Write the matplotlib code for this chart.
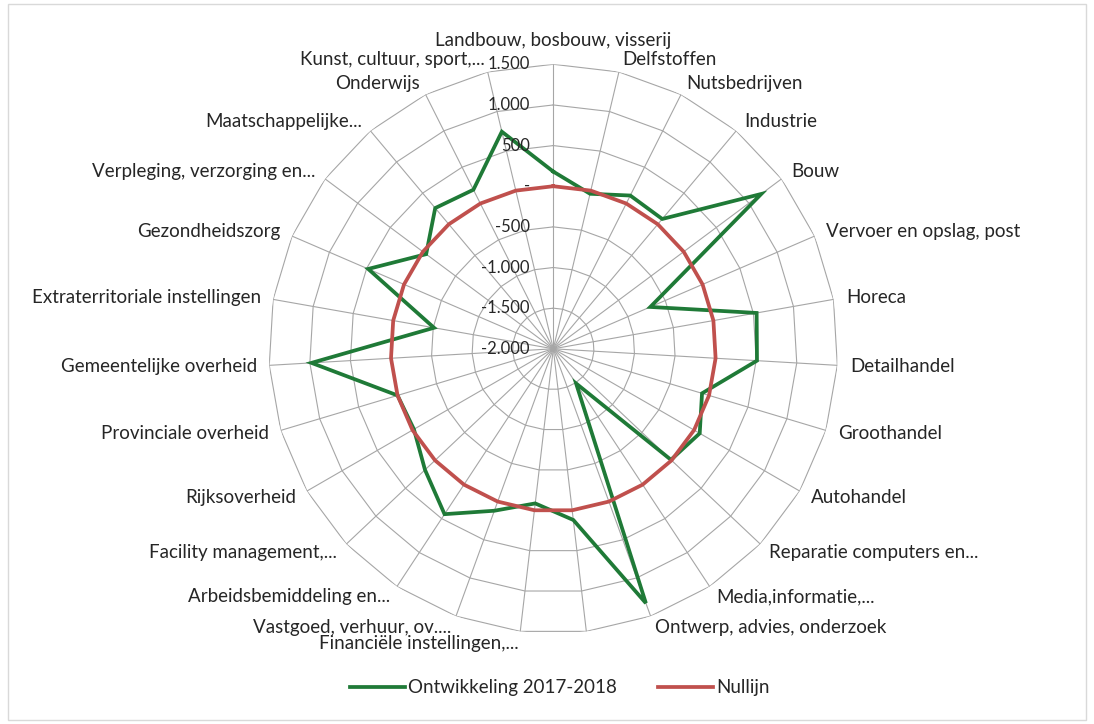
import numpy as np
import matplotlib
matplotlib.use('Agg')
import matplotlib.pyplot as plt
from matplotlib.patches import Rectangle


# sectoren (1 label is in het origineel niet zichtbaar)
sectoren = ['Landbouw, bosbouw, visserij', 'Delfstoffen', 'Nutsbedrijven',
            'Industrie', 'Bouw', 'Vervoer en opslag, post', 'Horeca',
            'Detailhandel', 'Groothandel', 'Autohandel',
            'Reparatie computers en...', 'Media,informatie,...',
            'Ontwerp, advies, onderzoek', '',
            'Financiële instellingen,...', 'Vastgoed, verhuur, ov....',
            'Arbeidsbemiddeling en...', 'Facility management,...',
            'Rijksoverheid', 'Provinciale overheid', 'Gemeentelijke overheid',
            'Extraterritoriale instellingen', 'Gezondheidszorg',
            'Verpleging, verzorging en...', 'Maatschappelijke...',
            'Onderwijs', 'Kunst, cultuur, sport,...']

ontwikkeling = [180, -40, 110, 85, 1190, -700, 540, 510, -90, 80, -10, -1490,
                1330, 120, -85, 120, 435, 170, -20, 0, 980, -510, 480, -50,
                260, 190, 745]

nullijn = [0] * len(sectoren)

r_ticks = [-2000, -1500, -1000, -500, 0, 500, 1000, 1500]
r_labels = ['-2.000', '-1.500', '-1.000', '-500', '-', '500', '1.000', '1.500']

GREEN = '#1f7a37'
RED = '#c0504d'
GRID = '#a6a6a6'
TXT = '#262626'
FS = 13.5

plt.rcParams['font.family'] = ['Lato', 'DejaVu Sans']

fig = plt.figure(figsize=(10.94, 7.24), dpi=100)
fig.patches.append(Rectangle((0.007, 0.006), 0.986, 0.988, transform=fig.transFigure,
                             fill=False, edgecolor='#d9d9d9', lw=1))

cx, cy, rad = 553.3 / 1094, 1 - 348.8 / 724, 284.5
ax = fig.add_axes([cx - rad / 1094, cy - rad / 724, 2 * rad / 1094, 2 * rad / 724],
                  projection='polar')
ax.set_theta_offset(np.pi / 2)
ax.set_theta_direction(-1)
ax.set_ylim(r_ticks[0], r_ticks[-1])
ax.grid(False)
ax.spines['polar'].set_visible(False)
ax.set_xticks([])
ax.set_yticks([])
ax.patch.set_alpha(0)

n = len(sectoren)
hoek = np.arange(n) * 2 * np.pi / n
hoek_c = np.append(hoek, hoek[0])

# web
for lvl in r_ticks[1:]:
    ax.plot(hoek_c, [lvl] * (n + 1), color=GRID, lw=0.8, zorder=1)
for a in hoek:
    ax.plot([a, a], [r_ticks[0], r_ticks[-1]], color=GRID, lw=0.8, zorder=1)

ax.plot(hoek_c, ontwikkeling + ontwikkeling[:1], color=GREEN, lw=2.7,
        label='Ontwikkeling 2017-2018', zorder=3, solid_joinstyle='miter')
ax.plot(hoek_c, nullijn + nullijn[:1], color=RED, lw=2.7,
        label='Nullijn', zorder=4)

# radiale labels
for lvl, txt in zip(r_ticks, r_labels):
    ax.annotate(txt, xy=(0, lvl), xytext=(-17, 0), textcoords='offset points',
                ha='right', va='center', fontsize=12, color=TXT, zorder=5)

# categorie labels
for a, lab in zip(hoek, sectoren):
    dx, dy = np.sin(a), np.cos(a)
    if abs(dx) < 0.05:
        ax.annotate(lab, xy=(a, r_ticks[-1]), xytext=(0, 11), textcoords='offset points',
                    ha='center', va='bottom', fontsize=FS, color=TXT)
        continue
    ha = 'left' if dx > 0 else 'right'
    off = 9
    ax.annotate(lab, xy=(a, r_ticks[-1]), xytext=(off * dx, off * dy),
                textcoords='offset points', ha=ha, va='center',
                fontsize=FS, color=TXT)

fig.legend(loc='lower center', bbox_to_anchor=(0.512, 0.015), ncol=2, frameon=False,
           fontsize=FS, handlelength=2.9, columnspacing=2.2, handletextpad=0.2,
           labelcolor=TXT)

fig.savefig('out.png', dpi=100)
